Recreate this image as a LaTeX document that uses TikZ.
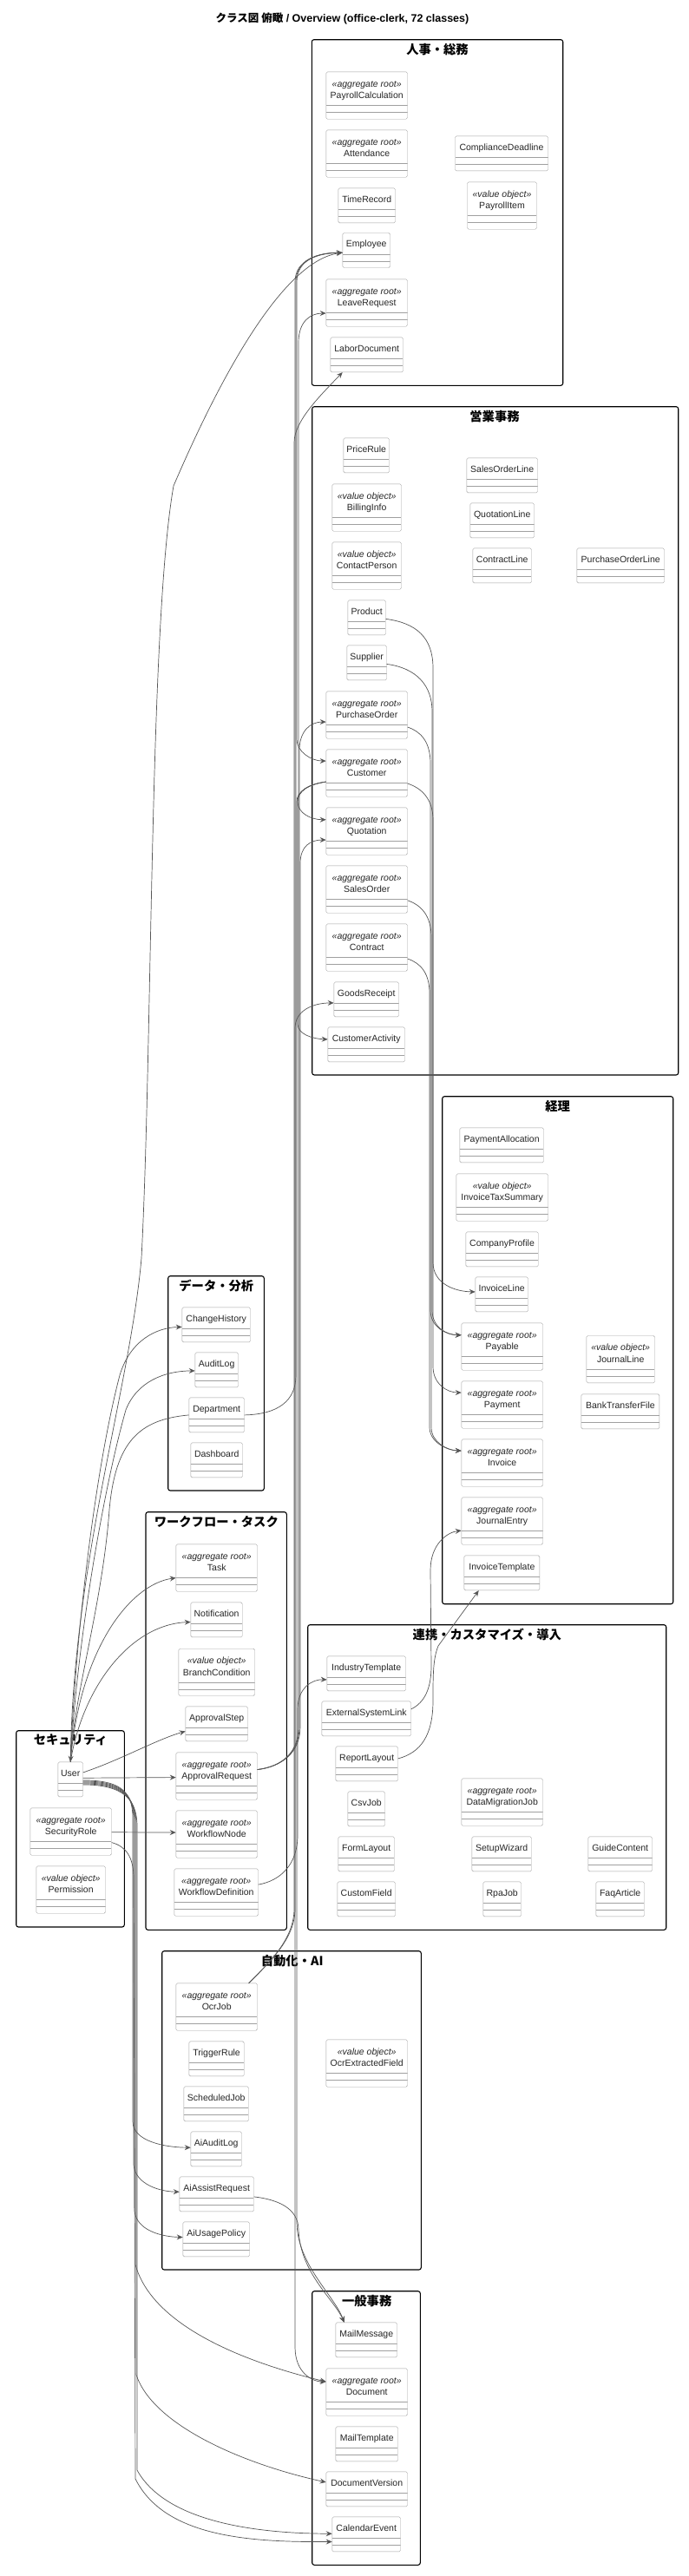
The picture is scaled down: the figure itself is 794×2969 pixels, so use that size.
\documentclass[tikz,border=0pt]{standalone}
\usepackage{fontspec}
\setmainfont{Liberation Sans}
\newfontfamily\jpfont{Noto Sans CJK JP}
\usetikzlibrary{arrows.meta}
\definecolor{clsline}{RGB}{160,160,160}
\definecolor{relline}{RGB}{85,85,85}
\newcommand{\clsfont}{\fontsize{10.5}{13.7}\selectfont}
\newcommand{\ster}[2]{\begin{tabular}[b]{@{}c@{}}\textit{«#1»}\\#2\end{tabular}}

\begin{document}
\begin{tikzpicture}[x=1pt,y=-1pt,
cls/.style={draw=clsline,fill=white,rounded corners=1.5pt,anchor=north west,
  inner xsep=0pt,inner ysep=0pt,font=\clsfont,text=black!85,
  text height=16.3pt,text depth=23.7pt,
  path picture={\draw[clsline]
    ([yshift=7.8pt]path picture bounding box.south west) -- ([yshift=7.8pt]path picture bounding box.south east)
    ([yshift=15.8pt]path picture bounding box.south west) -- ([yshift=15.8pt]path picture bounding box.south east);}},
agg/.style={cls,text height=31pt,text depth=23.3pt},
pkg/.style={draw=black,line width=1.1pt,rounded corners=2.5pt},
pkgtitle/.style={font=\jpfont\bfseries\fontsize{14.3}{16}\selectfont,inner sep=0pt},
rel/.style={draw=relline,line width=0.7pt,-{Stealth[length=7pt,width=6pt,inset=2.5pt]}}]
\useasboundingbox (0,0) rectangle (794,2969);

\node[font=\bfseries\fontsize{12.5}{14}\selectfont] (title) at (394.5,21)
  {{\jpfont クラス図 俯瞰} / Overview (office-clerk, 72 classes)};

\draw[pkg] (359.3,45.7) rectangle (648.7,444.3);
\node[pkgtitle] (hrTitle) at (504,57.3) {人事・総務};
\node[agg,minimum width=93.6pt] (PayrollCalculation) at (375.7,82.7) {\ster{aggregate root}{PayrollCalculation}};
\node[agg,minimum width=93.6pt] (Attendance) at (375.7,149.7) {\ster{aggregate root}{Attendance}};
\node[cls,minimum width=65.6pt] (TimeRecord) at (389.7,216.7) {TimeRecord};
\node[cls,minimum width=54.6pt] (Employee) at (394.7,268.3) {Employee};
\node[agg,minimum width=93.6pt] (LeaveRequest) at (375.7,321.7) {\ster{aggregate root}{LeaveRequest}};
\node[cls,minimum width=83.6pt] (LaborDocument) at (380.7,388.7) {LaborDocument};
\node[cls,minimum width=107pt] (ComplianceDeadline) at (524.3,156.7) {ComplianceDeadline};
\node[agg,minimum width=80pt] (PayrollItem) at (538.3,209.7) {\ster{value object}{PayrollItem}};

\draw[pkg] (359.7,468.7) rectangle (781.7,1239);
\node[pkgtitle] (salesTitle) at (570,480) {営業事務};
\node[cls,minimum width=52.6pt] (PriceRule) at (395.7,504.7) {PriceRule};
\node[agg,minimum width=79.6pt] (BillingInfo) at (382.7,557.7) {\ster{value object}{BillingInfo}};
\node[agg,minimum width=79.6pt] (ContactPerson) at (382.7,624.7) {\ster{value object}{ContactPerson}};
\node[cls,minimum width=43.6pt] (Product) at (400.7,691.7) {Product};
\node[cls,minimum width=45.6pt] (Supplier) at (399.7,743.7) {Supplier};
\node[agg,minimum width=93.6pt] (PurchaseOrder) at (375.7,796.7) {\ster{aggregate root}{PurchaseOrder}};
\node[agg,minimum width=93.6pt] (Customer) at (375.7,863.7) {\ster{aggregate root}{Customer}};
\node[agg,minimum width=93.6pt] (Quotation) at (375.7,930.7) {\ster{aggregate root}{Quotation}};
\node[agg,minimum width=93.6pt] (SalesOrder) at (375.7,997.7) {\ster{aggregate root}{SalesOrder}};
\node[agg,minimum width=93.6pt] (Contract) at (375.7,1064.7) {\ster{aggregate root}{Contract}};
\node[cls,minimum width=74.6pt] (GoodsReceipt) at (384.7,1131.7) {GoodsReceipt};
\node[cls,minimum width=88.6pt] (CustomerActivity) at (377.7,1183.7) {CustomerActivity};
\node[cls,minimum width=81.6pt] (SalesOrderLine) at (537.7,527.7) {SalesOrderLine};
\node[cls,minimum width=73.6pt] (QuotationLine) at (541.7,579.7) {QuotationLine};
\node[cls,minimum width=67.6pt] (ContractLine) at (544.7,631.7) {ContractLine};
\node[cls,minimum width=100.6pt] (PurchaseOrderLine) at (664.7,631.7) {PurchaseOrderLine};

\draw[pkg] (509.7,1263.7) rectangle (775.7,1848.7);
\node[pkgtitle] (accTitle) at (642.7,1275) {経理};
\node[cls,minimum width=96.6pt] (PaymentAllocation) at (529.7,1299.7) {PaymentAllocation};
\node[agg,minimum width=105.6pt] (InvoiceTaxSummary) at (525.7,1352.7) {\ster{value object}{InvoiceTaxSummary}};
\node[cls,minimum width=83.3pt] (CompanyProfile) at (536.7,1419.7) {CompanyProfile};
\node[cls,minimum width=60.6pt] (InvoiceLine) at (547.7,1471.7) {InvoiceLine};
\node[agg,minimum width=93.6pt] (Payable) at (531.7,1524.7) {\ster{aggregate root}{Payable}};
\node[agg,minimum width=93.6pt] (Payment) at (531.7,1591.7) {\ster{aggregate root}{Payment}};
\node[agg,minimum width=93.6pt] (Invoice) at (531.7,1658.7) {\ster{aggregate root}{Invoice}};
\node[agg,minimum width=93.6pt] (JournalEntry) at (531.7,1725.7) {\ster{aggregate root}{JournalEntry}};
\node[cls,minimum width=87pt] (InvoiceTemplate) at (534.7,1792.7) {InvoiceTemplate};
\node[agg,minimum width=78.6pt] (JournalLine) at (675.7,1539.3) {\ster{value object}{JournalLine}};
\node[cls,minimum width=90pt] (BankTransferFile) at (669.7,1606.7) {BankTransferFile};

\draw[pkg] (193.7,1470.7) rectangle (304.3,1718);
\node[pkgtitle] (dataTitle) at (249.3,1482.3) {データ・分析};
\node[cls,minimum width=78.6pt] (ChangeHistory) at (209.7,1506.7) {ChangeHistory};
\node[cls,minimum width=49.6pt] (AuditLog) at (224.7,1558.7) {AuditLog};
\node[cls,minimum width=63.6pt] (Department) at (217.7,1610.7) {Department};
\node[cls,minimum width=59.6pt] (Dashboard) at (219.7,1662.7) {Dashboard};

\draw[pkg] (168,1742.7) rectangle (330.3,2224.3);
\node[pkgtitle] (flowTitle) at (249.3,1754) {ワークフロー・タスク};
\node[agg,minimum width=93.6pt] (Task) at (202.7,1779.7) {\ster{aggregate root}{Task}};
\node[cls,minimum width=59.3pt] (Notification) at (219.7,1846.7) {Notification};
\node[agg,minimum width=87.6pt] (BranchCondition) at (205.7,1900) {\ster{value object}{BranchCondition}};
\node[cls,minimum width=71.6pt] (ApprovalStep) at (213.7,1966.7) {ApprovalStep};
\node[agg,minimum width=93.6pt] (ApprovalRequest) at (202.7,2019.7) {\ster{aggregate root}{ApprovalRequest}};
\node[agg,minimum width=93.6pt] (WorkflowNode) at (202.7,2086.7) {\ster{aggregate root}{WorkflowNode}};
\node[agg,minimum width=96.6pt] (WorkflowDefinition) at (200.7,2153.7) {\ster{aggregate root}{WorkflowDefinition}};

\draw[pkg] (18.7,1994.7) rectangle (143.3,2221);
\node[pkgtitle] (secTitle) at (81.3,2005.7) {セキュリティ};
\node[cls,minimum width=28.6pt] (User) at (66.7,2030.7) {User};
\node[agg,minimum width=93.6pt] (SecurityRole) at (34.7,2083.7) {\ster{aggregate root}{SecurityRole}};
\node[agg,minimum width=79.6pt] (Permission) at (41.7,2150.7) {\ster{value object}{Permission}};

\draw[pkg] (354.7,1872.7) rectangle (767.7,2224.3);
\node[pkgtitle] (linkTitle) at (561.3,1884) {連携・カスタマイズ・導入};
\node[cls,minimum width=90.6pt] (IndustryTemplate) at (376.7,1908.7) {IndustryTemplate};
\node[cls,minimum width=102.6pt] (ExternalSystemLink) at (370.7,1960.7) {ExternalSystemLink};
\node[cls,minimum width=71.6pt] (ReportLayout) at (386.7,2012.7) {ReportLayout};
\node[cls,minimum width=42.6pt] (CsvJob) at (400.7,2064.7) {CsvJob};
\node[cls,minimum width=64.6pt] (FormLayout) at (389.7,2116.7) {FormLayout};
\node[cls,minimum width=66.6pt] (CustomField) at (388.7,2168.7) {CustomField};
\node[agg,minimum width=93.6pt] (DataMigrationJob) at (531.7,2049.7) {\ster{aggregate root}{DataMigrationJob}};
\node[cls,minimum width=68.6pt] (SetupWizard) at (543.7,2116.7) {SetupWizard};
\node[cls,minimum width=43.6pt] (RpaJob) at (556.7,2168.7) {RpaJob};
\node[cls,minimum width=73.6pt] (GuideContent) at (677.7,2116.7) {GuideContent};
\node[cls,minimum width=55.6pt] (FaqArticle) at (686.7,2168.7) {FaqArticle};

\draw[pkg] (186.7,2248.7) rectangle (485.3,2616);
\node[pkgtitle] (aiTitle) at (336.7,2260) {自動化・AI};
\node[agg,minimum width=93.6pt] (OcrJob) at (202.7,2285.7) {\ster{aggregate root}{OcrJob}};
\node[cls,minimum width=63.3pt] (TriggerRule) at (217.7,2352.7) {TriggerRule};
\node[cls,minimum width=74.6pt] (ScheduledJob) at (211.7,2404.7) {ScheduledJob};
\node[cls,minimum width=58.6pt] (AiAuditLog) at (219.7,2456.7) {AiAuditLog};
\node[cls,minimum width=85.6pt] (AiAssistRequest) at (206.7,2508.7) {AiAssistRequest};
\node[cls,minimum width=76.6pt] (AiUsagePolicy) at (210.7,2560.7) {AiUsagePolicy};
\node[agg,minimum width=93.6pt] (OcrExtractedField) at (375.7,2350.7) {\ster{value object}{OcrExtractedField}};

\draw[pkg] (359.7,2640.7) rectangle (484.3,2956.3);
\node[pkgtitle] (generalTitle) at (422.7,2652) {一般事務};
\node[cls,minimum width=70.6pt] (MailMessage) at (386.7,2676.7) {MailMessage};
\node[agg,minimum width=93.6pt] (Document) at (375.7,2729.7) {\ster{aggregate root}{Document}};
\node[cls,minimum width=71.6pt] (MailTemplate) at (386.7,2796.7) {MailTemplate};
\node[cls,minimum width=93.6pt] (DocumentVersion) at (375.7,2848.7) {DocumentVersion};
\node[cls,minimum width=78.6pt] (CalendarEvent) at (382.7,2900.7) {CalendarEvent};

\draw[rel] (User.north) .. controls (84,1800) and (150,1600) .. (163,1450) .. controls (176,1200) and (172,720) .. (200,560) .. controls (260,420) and (330,300) .. ([yshift=-2.7pt]Employee.west);
\draw[rel] (Department.east) .. controls (320,1630) and (341,1615) .. (341,1585) -- (341,325) .. controls (341,300) and (365,291) .. ([yshift=-2.7pt]Employee.west);
\draw[rel] ([yshift=7.5pt]ApprovalRequest.east) .. controls (325,2036) and (344,2020) .. (344,1990) -- (344,395) .. controls (344,370) and (358,361) .. ([yshift=-12pt]LeaveRequest.west);
\draw[rel] ([xshift=-10pt]OcrJob.north east) .. controls (310,2262) and (339,2235) .. (339,2200) -- (339,510) .. controls (339,485) and (370,455) .. ([xshift=14pt]LaborDocument.south west);
\draw[rel] ([yshift=7.5pt]ApprovalRequest.east) .. controls (325,2036) and (345,2020) .. (345,1990) -- (345,865) .. controls (345,842) and (358,832) .. ([yshift=-8pt]PurchaseOrder.west);
\draw[rel] ([yshift=7.5pt]ApprovalRequest.east) .. controls (325,2036) and (346,2020) .. (346,1990) -- (346,995) .. controls (346,975) and (358,968) .. ([yshift=-10pt]Quotation.west);
\draw[rel] ([xshift=-10pt]OcrJob.north east) .. controls (310,2262) and (340,2235) .. (340,2200) -- (340,1185) .. controls (340,1165) and (360,1156) .. ([yshift=-4pt]GoodsReceipt.west);
\draw[rel] ([yshift=-10pt]Customer.west) .. controls (355,904) and (343,912) .. (343,924) .. controls (343,937) and (358,944.7) .. ([yshift=13.3pt]Quotation.west);
\draw[rel] ([yshift=-10pt]Customer.west) .. controls (355,904) and (343,912) .. (343,924) -- (343,1180) .. controls (343,1192) and (360,1197.3) .. ([yshift=6pt]CustomerActivity.west);
\draw[rel] ([yshift=-10pt]Customer.west) .. controls (355,904) and (342,912) .. (342,924) -- (342,2560) .. controls (342,2610) and (385,2645) .. ([xshift=10pt]MailMessage.north west);
\draw[rel] ([yshift=-2.7pt]Employee.west) .. controls (365,291) and (342,300) .. (342,325) -- (342,852) .. controls (342,866) and (358,877) .. ([yshift=14pt]Customer.west);
\draw[rel] ([yshift=-2.7pt]Employee.west) .. controls (365,291) and (340,300) .. (340,325) -- (340,2705) .. controls (340,2735) and (360,2745) .. ([yshift=12pt]Document.west);
\draw[rel] ([yshift=9pt]WorkflowDefinition.east) .. controls (322,2168) and (343,2150) .. (343,2115) -- (343,1970) .. controls (343,1945) and (360,1935.3) .. ([yshift=-7pt]IndustryTemplate.west);

\draw[rel] ([yshift=-1.5pt]Product.east) .. controls (480,718) and (499,735) .. (499,770) -- (499,1455) .. controls (499,1480) and (525,1488.7) .. ([yshift=3pt]InvoiceLine.west);
\draw[rel] ([yshift=-1.5pt]Supplier.east) .. controls (480,770) and (498,790) .. (498,820) -- (498,1510) .. controls (498,1530) and (515,1538.7) .. ([yshift=13.3pt]Payable.west);
\draw[rel] ([yshift=-14pt]PurchaseOrder.east) .. controls (485,843) and (496,855) .. (496,880) -- (496,1510) .. controls (496,1530) and (515,1538.7) .. ([yshift=13.3pt]Payable.west);
\draw[rel] ([yshift=-12pt]Customer.east) .. controls (485,908) and (499,920) .. (499,945) -- (499,1575) .. controls (499,1595) and (515,1605) .. ([yshift=14pt]Payment.west);
\draw[rel] ([yshift=-12.7pt]SalesOrder.east) .. controls (485,1043) and (497,1055) .. (497,1080) -- (497,1645) .. controls (497,1662) and (515,1671.7) .. ([yshift=14pt]Invoice.west);
\draw[rel] ([yshift=-13pt]Contract.east) .. controls (485,1110) and (495,1122) .. (495,1145) -- (495,1645) .. controls (495,1662) and (515,1671.7) .. ([yshift=14pt]Invoice.west);
\draw[rel] ([yshift=11pt]ExternalSystemLink.east) .. controls (490,1962) and (497,1945) .. (497,1920) -- (496,1810) .. controls (496,1780) and (515,1766) .. ([yshift=-11pt]JournalEntry.west);
\draw[rel] ([yshift=6pt]ReportLayout.east) .. controls (485,2020) and (499,2000) .. (499,1960) .. controls (499,1930) and (499,1912) .. (505,1897) -- ([xshift=17pt]InvoiceTemplate.south west);

\draw[rel] (User.north) .. controls (86,1900) and (108,1700) .. (138,1585) .. controls (150,1545) and (180,1530) .. ([yshift=-2.5pt]ChangeHistory.west);
\draw[rel] (User.north) .. controls (88,1900) and (118,1720) .. (145,1625) .. controls (158,1592) and (190,1580) .. ([yshift=-1pt]AuditLog.west);
\draw[rel] (Department.west) .. controls (160,1636) and (133,1662) .. (126,1740) .. controls (118,1850) and (86,1950) .. (User.north);
\draw[rel] (User.north) .. controls (92,1900) and (150,1826) .. ([yshift=-11.5pt]Task.west);
\draw[rel] (User.north) .. controls (95,1945) and (150,1872) .. ([yshift=-2.6pt]Notification.west);
\draw[rel] ([yshift=8pt]User.east) .. controls (140,2028) and (180,2005) .. ([yshift=-8.5pt]ApprovalStep.west);
\draw[rel] ([yshift=1.7pt]User.east) -- ([yshift=-1.5pt]ApprovalRequest.west);
\draw[rel] ([yshift=-0.7pt]SecurityRole.east) -- ([yshift=2pt]WorkflowNode.west);

\draw[rel] ([yshift=-1pt]User.east) .. controls (135,2052) and (153,2062) .. (153,2095) -- (153,2445) .. controls (153,2468) and (190,2475) .. ([yshift=1.7pt]AiAuditLog.west);
\draw[rel] ([yshift=-2pt]User.east) .. controls (136,2053) and (154,2064) .. (154,2097) -- (154,2495) .. controls (156,2518) and (185,2526) .. ([yshift=2.7pt]AiAssistRequest.west);
\draw[rel] ([yshift=-3pt]User.east) .. controls (137,2054) and (155,2066) .. (155,2099) -- (155,2548) .. controls (157,2570) and (185,2578) .. ([yshift=2.4pt]AiUsagePolicy.west);
\draw[rel] ([yshift=-4pt]User.east) .. controls (138,2055) and (156,2068) .. (156,2101) -- (156,2610) .. controls (175,2680) and (280,2722) .. ([yshift=12pt]Document.west);
\draw[rel] ([yshift=-5pt]User.east) .. controls (139,2056) and (157,2070) .. (157,2103) -- (157,2737) .. controls (176,2795) and (280,2840) .. ([yshift=8pt]DocumentVersion.west);
\draw[rel] ([yshift=-6pt]User.east) .. controls (140,2057) and (158,2072) .. (158,2105) -- (158,2847) .. controls (190,2905) and (290,2920) .. ([yshift=0.7pt]CalendarEvent.west);
\draw[rel] ([yshift=-12.5pt]SecurityRole.east) .. controls (145,2128) and (154,2140) .. (154,2165) -- (156,2857) .. controls (190,2925) and (290,2930) .. ([yshift=-8.6pt]CalendarEvent.west);
\draw[rel] ([yshift=-3pt]AiAssistRequest.east) .. controls (320,2535) and (344,2545) .. (344,2570) .. controls (346,2620) and (385,2650) .. ([xshift=10pt]MailMessage.north west);
\end{tikzpicture}
\end{document}
